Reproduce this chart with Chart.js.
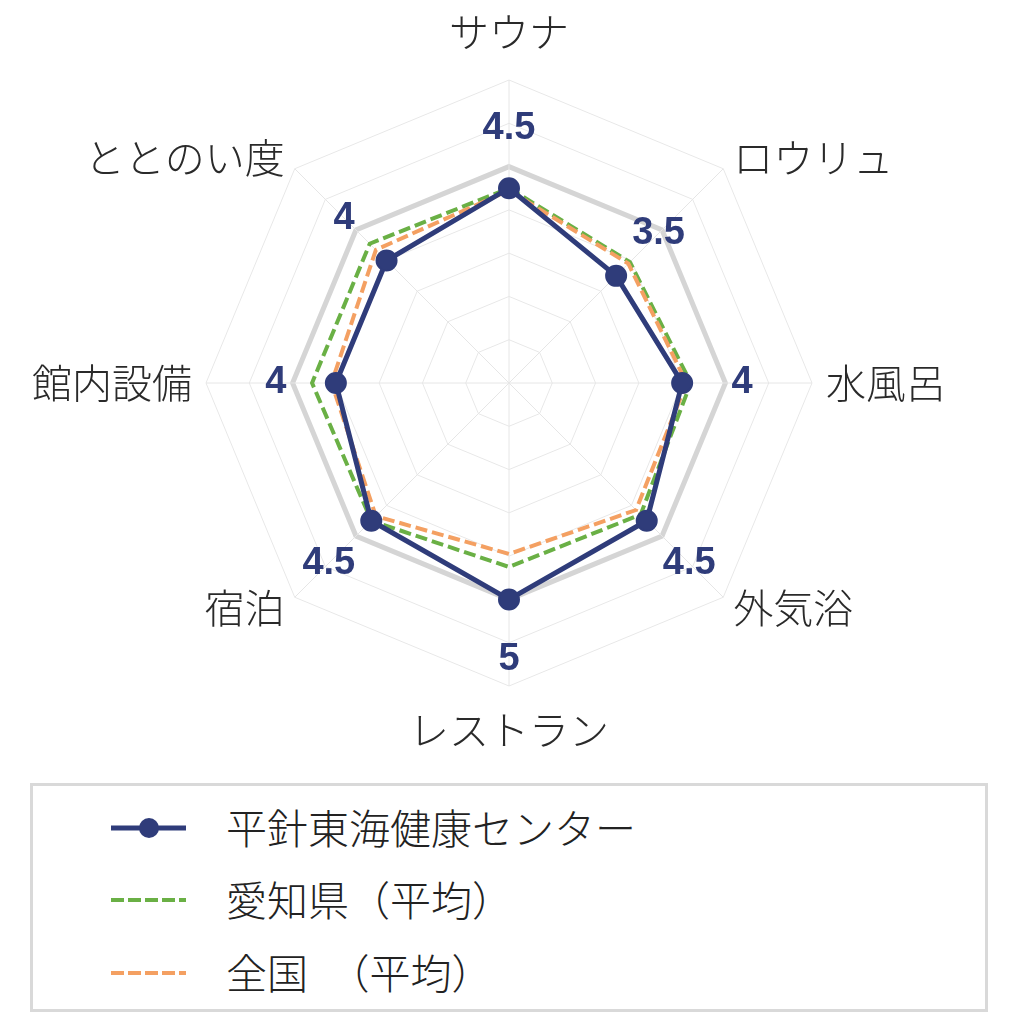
<!DOCTYPE html>
<html>
<head>
<meta charset="utf-8">
<script src="https://cdn.jsdelivr.net/npm/chart.js@4.4.1/dist/chart.umd.min.js"></script>
<style>
  html, body { margin: 0; padding: 0; background: #ffffff; }
  body { width: 1024px; height: 1024px; position: relative; overflow: hidden; }
  #wrap { position: absolute; left: 0; top: 0; width: 1024px; height: 762px; }
  #legend { position: absolute; left: 30px; top: 783px; width: 958px; height: 229px;
            box-sizing: border-box; border: 3px solid #d9d9d9; background: #fff; }
  .row { position: absolute; left: 0; height: 60px; display: flex; align-items: center; }
  .row svg { position: absolute; left: 75px; top: 20px; }
  .row span { position: absolute; left: 193px; white-space: nowrap;
              font-family: "Noto Sans CJK JP", "Noto Sans", sans-serif; font-weight: 300;
              font-size: 41px; line-height: 60px; color: #222; top: 0; }
</style>
</head>
<body>
<div id="wrap"><canvas id="c" width="1024" height="762"></canvas></div>
<div id="legend"></div>
<script>
// ---- data ----
const categories = ['サウナ', 'ロウリュ', '水風呂', '外気浴', 'レストラン', '宿泊', '館内設備', 'ととのい度'];
const facilityScores = [4.5, 3.5, 4, 4.5, 5, 4.5, 4, 4];
const aichiAverage   = [4.5, 3.95, 4.2, 4.3, 4.25, 4.5, 4.55, 4.55];
const nationalAverage = [4.45, 3.9, 4.1, 4.15, 3.95, 4.35, 4.1, 4.35];
const seriesNames = ['平針東海健康センター', '愛知県（平均）', '全国　（平均）'];
const scaleMax = 7;
const scaleStep = 1;
const highlightRing = 5;

// ---- styles ----
const NAVY = '#2f3c7a';
const GREEN = '#6ab045';
const ORANGE = '#f4a062';
const JP = '"Noto Sans CJK JP", "Noto Sans", sans-serif';

const valueLabels = {
  id: 'valueLabels',
  afterDatasetsDraw(chart) {
    const meta = chart.getDatasetMeta(0);
    const sc = chart.scales.r;
    const ctx = chart.ctx;
    ctx.save();
    ctx.font = 'bold 38px "Liberation Sans", Arial, sans-serif';
    ctx.fillStyle = NAVY;
    ctx.textAlign = 'center';
    ctx.textBaseline = 'middle';
    meta.data.forEach((pt, i) => {
      const a = Math.atan2(pt.y - sc.yCenter, pt.x - sc.xCenter);
      const x = pt.x + 60 * Math.cos(a);
      const y = pt.y + 60 * Math.sin(a);
      ctx.fillText(String(chart.data.datasets[0].data[i]), x, y);
    });
    ctx.restore();
  }
};

const labelPadding = [18, 14, 14, 14, 14, 14, 14, 14];
const labelLineHeight = [1.5, 0.05, 1.2, 0.05, 1.5, 0.05, 1.2, 0.05];

const chart = new Chart(document.getElementById('c'), {
  type: 'radar',
  data: {
    labels: categories,
    datasets: [
      { label: seriesNames[0], data: facilityScores, borderColor: NAVY, backgroundColor: NAVY,
        borderWidth: 5, pointRadius: 10, pointBorderWidth: 2, pointBackgroundColor: NAVY,
        pointBorderColor: NAVY, fill: false, order: 0 },
      { label: seriesNames[1], data: aichiAverage, borderColor: GREEN, backgroundColor: 'transparent',
        borderWidth: 4, borderDash: [12, 5], pointRadius: 0, fill: false, order: 2 },
      { label: seriesNames[2], data: nationalAverage, borderColor: ORANGE, backgroundColor: 'transparent',
        borderWidth: 4, borderDash: [12, 5], pointRadius: 0, fill: false, order: 1 }
    ]
  },
  options: {
    responsive: false,
    animation: false,
    devicePixelRatio: 1,
    layout: { padding: { left: 0, right: 44, top: 0, bottom: 0 } },
    plugins: { legend: { display: false }, tooltip: { enabled: false } },
    elements: { line: { tension: 0 } },
    scales: {
      r: {
        min: 0, max: scaleMax,
        ticks: { display: false, stepSize: scaleStep },
        angleLines: { color: '#e6e6e6', lineWidth: 1 },
        grid: {
          color: (c) => (c.tick && c.tick.value === highlightRing) ? '#d5d5d5' : '#e8e8e8',
          lineWidth: (c) => (c.tick && c.tick.value === highlightRing) ? 5 : 1
        },
        pointLabels: {
          color: '#2a2a2a',
          padding: (c) => labelPadding[c.index],
          font: (c) => ({ family: JP, size: 40, weight: '300', lineHeight: labelLineHeight[c.index] })
        }
      }
    }
  },
  plugins: [valueLabels]
});

// ---- HTML legend built from the chart's datasets ----
const legend = document.getElementById('legend');
const rowTops = [10, 82, 155];
chart.data.datasets.forEach((ds, i) => {
  const row = document.createElement('div');
  row.className = 'row';
  row.style.top = rowTops[i] + 'px';
  const dash = ds.borderDash ? '13,4' : '';
  let svg = '<svg width="80" height="24" viewBox="0 0 80 24">' +
    '<line x1="3" y1="12" x2="78" y2="12" stroke="' + ds.borderColor + '" stroke-width="' + ds.borderWidth + '"' +
    (dash ? ' stroke-dasharray="' + dash + '"' : '') + '/>';
  if (ds.pointRadius > 0) svg += '<circle cx="41" cy="12" r="10" fill="' + ds.pointBackgroundColor + '"/>';
  svg += '</svg>';
  row.innerHTML = svg + '<span>' + ds.label + '</span>';
  legend.appendChild(row);
});
</script>
</body>
</html>
